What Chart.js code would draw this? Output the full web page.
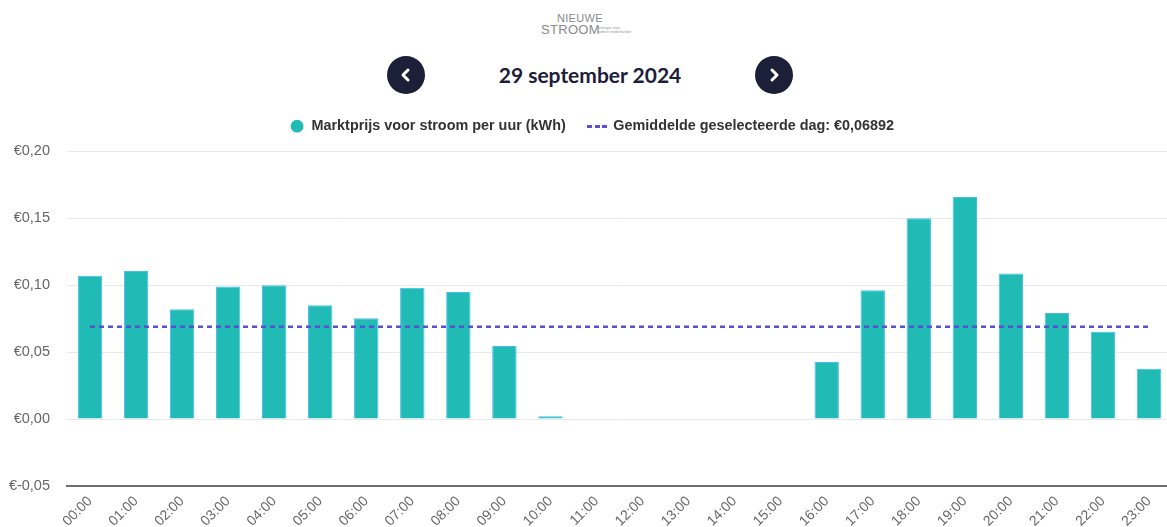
<!DOCTYPE html>
<html>
<head>
<meta charset="utf-8">
<script src="https://cdn.jsdelivr.net/npm/chart.js@4.4.1/dist/chart.umd.min.js"></script>
<style>
html,body{margin:0;padding:0;background:#fff;overflow:hidden;width:1167px;height:527px;}
#logo{position:absolute;left:541px;top:11px;color:#8a8a8a;font-family:"Liberation Sans",Arial,sans-serif;}
#logo .l1{position:absolute;left:16px;top:1px;font-size:11px;letter-spacing:0.3px;white-space:nowrap;}
#logo .l2{position:absolute;left:0;top:11px;font-size:13px;letter-spacing:0.3px;white-space:nowrap;}
#logo .tag{position:absolute;left:57px;top:15px;font-size:4px;line-height:4px;white-space:nowrap;color:#999;}
.nav{position:absolute;top:56px;width:38px;height:38px;border-radius:50%;background:#1b2038;}
#prev{left:387px;}
#next{left:755px;}
.nav svg{position:absolute;left:0;top:0;}
#title{position:absolute;left:390px;width:400px;top:60px;text-align:center;font-family:Lato,"Open Sans",sans-serif;font-weight:700;font-size:21px;color:#1b2038;line-height:30px;}
#wrap{position:absolute;left:0;top:93px;width:1172px;height:434px;}
</style>
</head>
<body>
<div id="logo"><div class="l1">NIEUWE</div><div class="l2">STROOM</div><div class="tag">energie voor<br>iedere nederlander</div></div>
<div class="nav" id="prev"><svg width="38" height="38"><polyline points="21,14 16,19 21,24" fill="none" stroke="#fff" stroke-width="3" stroke-linecap="round" stroke-linejoin="round"/></svg></div>
<div id="title">29 september 2024</div>
<div class="nav" id="next"><svg width="38" height="38"><polyline points="17,14 22,19 17,24" fill="none" stroke="#fff" stroke-width="3" stroke-linecap="round" stroke-linejoin="round"/></svg></div>
<div id="wrap"><canvas id="c"></canvas></div>
<script>
const hours = ["00:00","01:00","02:00","03:00","04:00","05:00","06:00","07:00","08:00","09:00","10:00","11:00","12:00","13:00","14:00","15:00","16:00","17:00","18:00","19:00","20:00","21:00","22:00","23:00"];
const prices = [0.1071,0.1106,0.0821,0.0990,0.1000,0.0851,0.0754,0.0982,0.0950,0.0546,0.0022,0,0,0,0,0,0.0427,0.0963,0.1500,0.1659,0.1087,0.0793,0.0652,0.0376];
const averageLine = [0.06892,0.06892,0.06892,0.06892,0.06892,0.06892,0.06892,0.06892,0.06892,0.06892,0.06892,0.06892,0.06892,0.06892,0.06892,0.06892,0.06892,0.06892,0.06892,0.06892,0.06892,0.06892,0.06892,0.06892];
const yTicks = [-0.05,0,0.05,0.10,0.15,0.20];
const barLabel = "Marktprijs voor stroom per uur (kWh)";
const avgLabel = "Gemiddelde geselecteerde dag: €0,06892";

const dash = document.createElement('canvas');
dash.width = 24; dash.height = 3;
(function(){const g = dash.getContext('2d'); g.fillStyle = '#5a4fcf'; g.fillRect(0,0,5,3); g.fillRect(8,0,5,3); g.fillRect(15,0,5,3);})();

const fmt = v => '€' + Number(v).toFixed(2).replace('.', ',');
const FONT = '"Liberation Sans", Arial, sans-serif';

const legendSpace = {
  id: 'legendSpace',
  beforeInit(chart) {
    const lg = chart.legend;
    if (!lg) return;
    const orig = lg.fit;
    lg.fit = function() { orig.call(this); this.height += 8; };
  },
  afterLayout(chart) {
    const lg = chart.legend;
    if (!lg) return;
    lg.left += 6; lg.right += 6;
  }
};

new Chart(document.getElementById('c'), {
  data: {
    labels: hours,
    datasets: [
      {type:'bar', label: barLabel, data: prices, backgroundColor:'#20bbb4', borderColor:'#45bdf0', borderWidth:1, barPercentage:0.53, categoryPercentage:1, order:2},
      {type:'line', label: avgLabel, data: averageLine, borderColor:'#5a4fcf', backgroundColor:'#5a4fcf', borderWidth:2.5, borderDash:[5,4], pointRadius:0, fill:false, order:1}
    ]
  },
  plugins: [legendSpace],
  options: {
    responsive: true, maintainAspectRatio: false, animation: false,
    layout: {padding: {top: 0, right: 0, left: 0, bottom: 0}},
    plugins: {
      tooltip: {enabled:false},
      legend: {
        position:'top',
        labels: {
          usePointStyle: true, boxHeight: 9, padding: 26, color:'#333',
          font: {family: FONT, size: 14.4, weight: 'bold'},
          sort: (a,b) => a.datasetIndex - b.datasetIndex,
          generateLabels: (chart) => {
            const items = Chart.defaults.plugins.legend.labels.generateLabels(chart);
            items.forEach(it => {
              if (it.datasetIndex === 0) { it.pointStyle = 'circle'; it.fillStyle = '#20bbb4'; it.strokeStyle = '#20bbb4'; it.lineWidth = 0; }
              else { it.pointStyle = dash; it.lineDash = []; }
            });
            return items;
          }
        }
      }
    },
    scales: {
      x: {
        grid: {display:false, drawTicks:false},
        border: {display:true, color:'#6e6e6e', width:2},
        afterFit: (axis) => { axis.height = 41; },
        ticks: {minRotation:45, maxRotation:45, padding:7, color:'#666', font:{family: FONT, size:14}, autoSkip:false}
      },
      y: {
        min: -0.05, max: 0.2,
        afterBuildTicks: (axis) => { axis.ticks = yTicks.map(v => ({value: v})); },
        afterFit: (axis) => { axis.width = 67; },
        grid: {color:'#e9e9e9', drawTicks:false, lineWidth:1},
        border: {display:false},
        ticks: {padding:17, color:'#666', font:{family: FONT, size:14.5}, callback: (v) => fmt(v)}
      }
    }
  }
});
</script>
</body>
</html>
